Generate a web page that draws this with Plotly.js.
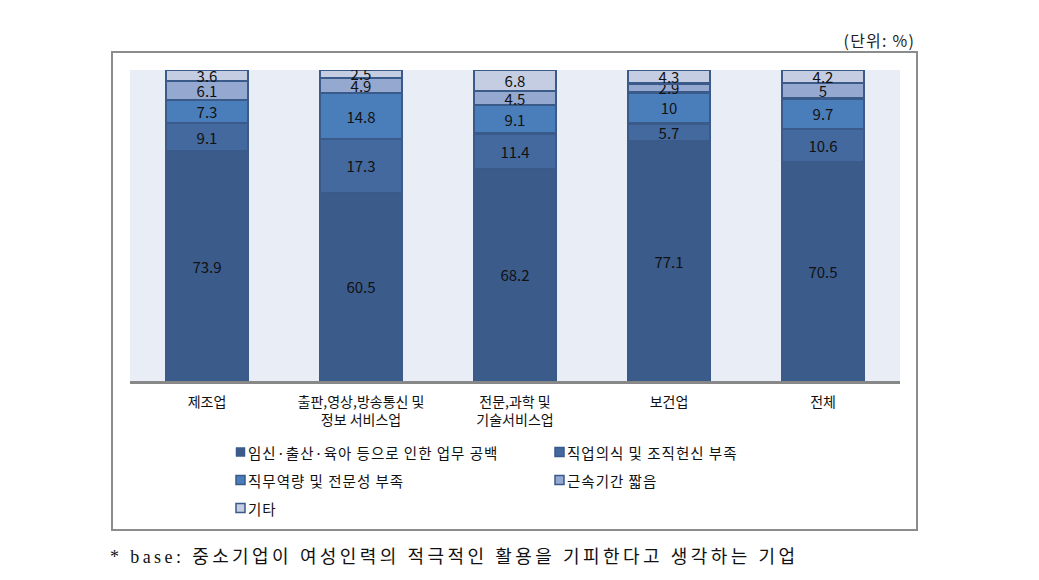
<!DOCTYPE html>
<html>
<head>
<meta charset="utf-8">
<script src="https://cdn.plot.ly/plotly-3.0.1.min.js"></script>
<style>
html,body{margin:0;padding:0;background:#fff;}
#chart{width:1039px;height:580px;}
#chart .annotation[data-index="0"] text{letter-spacing:1.2px;}
#chart .annotation[data-index="1"] text{letter-spacing:3.4px;}
#chart .annotation[data-index="2"] text,
#chart .annotation[data-index="3"] text,
#chart .annotation[data-index="4"] text,
#chart .annotation[data-index="5"] text,
#chart .annotation[data-index="6"] text{letter-spacing:1px;}
</style>
</head>
<body>
<div id="chart"></div>
<script>
const categories = ['제조업', '출판,영상,방송통신 및<br>정보 서비스업', '전문,과학 및<br>기술서비스업', '보건업', '전체'];
const seriesNames = ['임신·출산·육아 등으로 인한 업무 공백', '직업의식 및 조직헌신 부족', '직무역량 및 전문성 부족', '근속기간 짧음', '기타'];
const s1 = [73.9, 60.5, 68.2, 77.1, 70.5];
const s2 = [9.1, 17.3, 11.4, 5.7, 10.6];
const s3 = [7.3, 14.8, 9.1, 10, 9.7];
const s4 = [6.1, 4.9, 4.5, 2.9, 5];
const s5 = [3.6, 2.5, 6.8, 4.3, 4.2];
const unitLabel = '(단위: %)';
const footnote = '* base: 중소기업이 여성인력의 적극적인 활용을 기피한다고 생각하는 기업';

const series = [s1, s2, s3, s4, s5];
const colors = ['#3B5B8B', '#43699E', '#4A7EBB', '#95A8D0', '#C5CDE2'];
const lineColor = '#3A5A8A';
const font = '"Noto Sans CJK KR", "Noto Sans", sans-serif';

const traces = series.map((vals, i) => ({
  type: 'bar',
  name: seriesNames[i],
  x: categories,
  y: vals,
  text: vals.map(v => String(v)),
  textposition: 'inside',
  insidetextanchor: 'middle',
  constraintext: 'none',
  textangle: 0,
  textfont: {family: font, size: 15, color: '#111'},
  marker: {color: colors[i], line: {color: lineColor, width: 2.5}},
  width: 0.53,
  hoverinfo: 'skip',
  showlegend: false
}));

// px -> paper helpers (plot area: x 130..900, y 70..381)
const L = 130, R = 900, T = 70, B = 381;
const px = x => (x - L) / (R - L);
const py = y => (B - y) / (B - T);

const shapes = [{
  type: 'rect', xref: 'paper', yref: 'paper',
  x0: px(112), x1: px(917), y0: py(530), y1: py(52),
  line: {color: '#8C8C8C', width: 2}, fillcolor: 'rgba(0,0,0,0)', layer: 'below'
}];
const annotations = [
  {text: unitLabel, xref: 'paper', yref: 'paper', x: px(917), y: py(40), xanchor: 'right', yanchor: 'middle', align: 'right', showarrow: false, font: {family: font, size: 16, color: '#222'}},
  {text: footnote, xref: 'paper', yref: 'paper', x: px(108), y: py(557), xanchor: 'left', yanchor: 'middle', align: 'left', showarrow: false, font: {family: '"Liberation Serif", "Noto Sans CJK KR", serif', size: 18, color: '#111'}}
];

// legend (manual, 2 columns)
const legPos = [[236, 452], [555, 452], [236, 480], [555, 480], [236, 508]];
seriesNames.forEach((n, i) => {
  const [lx, ly] = legPos[i];
  shapes.push({type: 'rect', xref: 'paper', yref: 'paper', x0: px(lx), x1: px(lx + 9), y0: py(ly + 4.5), y1: py(ly - 4.5),
    fillcolor: colors[i], line: {color: lineColor, width: i === 0 ? 0.5 : 1.5}});
  annotations.push({text: n, xref: 'paper', yref: 'paper', x: px(lx + 10), y: py(ly), xanchor: 'left', yanchor: 'middle', align: 'left', showarrow: false,
    font: {family: font, size: 14.5, color: '#111'}});
});

const layout = {
  width: 1039, height: 580,
  margin: {l: L, r: 1039 - R, t: T, b: 580 - B, pad: 0},
  barmode: 'stack',
  paper_bgcolor: '#ffffff',
  plot_bgcolor: '#E9EDF5',
  showlegend: false,
  font: {family: font, size: 14, color: '#111'},
  xaxis: {showline: true, linecolor: '#888888', linewidth: 3, ticks: '', showgrid: false, zeroline: false,
    ticklabelstandoff: 6,
    tickfont: {family: font, size: 14, color: '#111'}, fixedrange: true},
  yaxis: {range: [0, 100], visible: false, showgrid: false, zeroline: false, fixedrange: true},
  shapes: shapes,
  annotations: annotations
};

Plotly.newPlot('chart', traces, layout, {displayModeBar: false, staticPlot: true});
</script>
</body>
</html>
